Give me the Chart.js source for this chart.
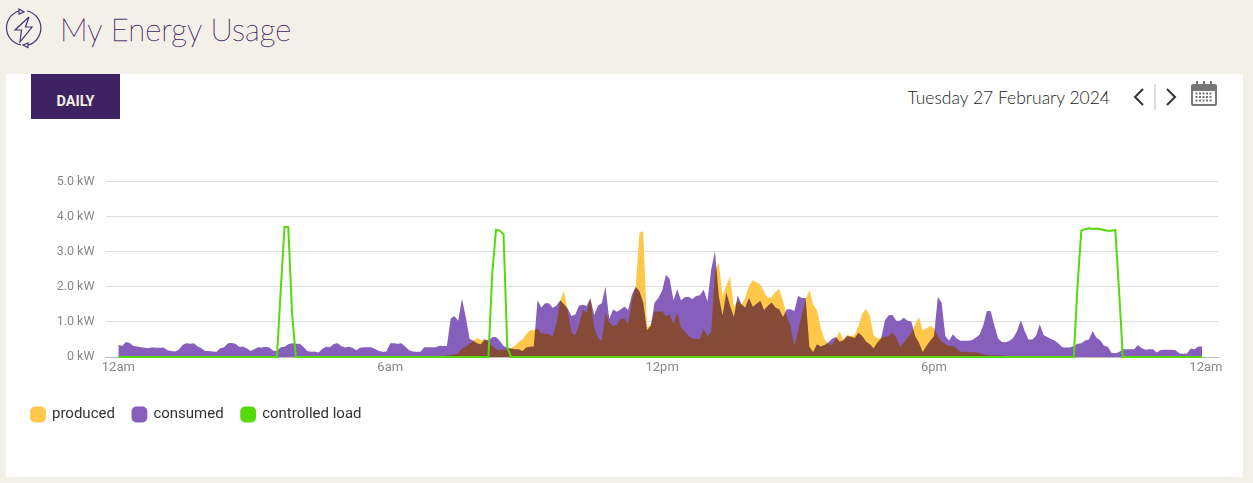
<!DOCTYPE html>
<html>
<head>
<meta charset="utf-8">
<title>My Energy Usage</title>
<script src="https://cdn.jsdelivr.net/npm/chart.js@4/dist/chart.umd.min.js"></script>
<style>
    html, body { margin: 0; padding: 0; width: 1253px; height: 483px; overflow: hidden; background: #f3f0ea; }
    .titulo { position: absolute; left: 60px; top: 9px; font: 100 31px/40px Lato, sans-serif; color: #3f2262; -webkit-text-stroke: .35px #3f2262; letter-spacing: .1px; white-space: nowrap; }
    .icono { position: absolute; left: 0; top: 0; }
    .card { position: absolute; left: 6px; top: 74px; width: 1237px; height: 403px; background: #fff; }
    .daily { position: absolute; left: 31px; top: 74px; width: 89px; height: 45px; background: #3f2262; color: #f3f0ea; font: 700 14.5px/55px Roboto, sans-serif; text-align: center; }
    .fecha { position: absolute; left: 820px; width: 290px; top: 86px; text-align: right; font: 300 17.5px/24px Lato, sans-serif; color: #222; white-space: nowrap; }
    .nav { position: absolute; left: 1130px; top: 80px; }
    .wrap { position: absolute; left: 6px; top: 130px; width: 1237px; height: 340px; }
</style>
</head>
<body>
<svg class="icono" width="45" height="50" viewBox="0 0 45 50" fill="none" stroke="#4b2f75" stroke-width="1.2">
    <path d="M19 11 A17.5 17.5 0 0 0 21 45"/>
    <path d="M27 11 A17.5 17.5 0 0 1 28 45"/>
    <path d="M19 9 L24 12 L19 14 Z"/>
    <path d="M28 43 L23 45 L28 47.5 Z"/>
    <path d="M29 17 L15 30 L21.5 30 L20 42 L32 27 L25.5 27 Z"/>
</svg>
<div class="titulo">My Energy Usage</div>
<div class="card"></div>
<div class="daily">DAILY</div>
<div class="fecha">Tuesday 27 February 2024</div>
<svg class="nav" width="90" height="32" viewBox="0 0 90 32" fill="none">
    <path d="M13 9 L5 17 L13 25" stroke="#333" stroke-width="2"/>
    <path d="M37 9 L45 17 L37 25" stroke="#333" stroke-width="2"/>
    <line x1="25" y1="4" x2="25" y2="30" stroke="#ddd" stroke-width="2"/>
    <rect x="61" y="4" width="26" height="22" rx="2" fill="#777"/>
    <rect x="63" y="11" width="22" height="13" fill="#fff"/>
    <path d="M65.5 13.5h17M65.5 17h17M65.5 20.5h17" stroke="#777" stroke-width="2" stroke-dasharray="2 1.5"/>
    <path d="M67 1v6M74 1v6M81 1v6" stroke="#777" stroke-width="2"/>
</svg>
<div class="wrap"><canvas id="energyChart"></canvas></div>

<script>
// kW readings, one every 5 minutes, one row per hour
const produced = [
    0,0,0,0,0,0,0,0,0,0,0,0,
    0,0,0,0,0,0,0,0,0,0,0,0,
    0,0,0,0,0,0,0,0,0,0,0,0,
    0,0,0,0,0,0,0,0,0,0,0,0,
    0,0,0,0,0,0,0,0,0,0,0,0,
    0,0,0,0,0,0,0,0,0,0,0,0,
    0,0,0,0,0,0,0,0,0,0,0,0,
    0,0,0,.05,.06,.08,.10,.25,.29,.38,.46,.54,
    .48,.51,.41,.31,.22,.19,.21,.22,.25,.33,.43,.50,
    .65,.76,.76,.81,.67,.66,.65,.58,.93,1.60,1.89,1.31,
    .70,.62,.93,1.34,1.27,1.68,.84,.55,.46,1.27,.98,.89,
    .91,1.08,1.10,.95,1.60,2.00,3.55,3.58,.84,.93,1.30,1.29,
    1.31,1.16,1.22,.95,1.27,.84,.72,.60,.53,.51,.51,.80,
    .59,.72,2.45,2.70,1.74,2.03,2.29,1.41,1.60,1.49,1.68,2.03,
    2.19,2.13,2.06,1.86,1.69,1.70,1.86,1.94,1.60,1.17,.89,.31,
    .74,1.22,1.65,1.91,1.49,1.33,.84,.50,.38,.34,.53,.73,
    .50,.63,.60,.63,.89,1.24,1.37,1.17,.63,.53,.55,.57,
    .60,.70,.55,.29,.41,.55,.70,.93,1.14,.76,.82,.89,
    .82,.60,.44,.36,.31,.31,.25,.15,.15,.14,.13,.14,
    .10,.08,.06,.05,.05,.05,.04,.03,.02,0,0,0,
    0,0,0,0,0,0,0,0,0,0,0,0,
    0,0,0,0,0,0,0,0,0,0,0,0,
    0,0,0,0,0,0,0,0,0,0,0,0,
    0,0,0,0,0,0,0,0,0,0,0,0
];
const consumed = [
    .35,.31,.43,.40,.31,.30,.28,.26,.25,.28,.26,.26,
    .27,.19,.17,.16,.21,.34,.39,.38,.39,.30,.25,.17,
    .17,.16,.15,.25,.28,.39,.40,.38,.29,.29,.25,.17,
    .22,.28,.27,.29,.27,.18,.17,.28,.29,.36,.39,.38,
    .38,.29,.17,.15,.16,.13,.23,.29,.28,.36,.40,.31,
    .27,.29,.26,.19,.26,.28,.28,.28,.23,.17,.15,.16,
    .39,.39,.38,.39,.29,.19,.16,.15,.15,.28,.28,.28,
    .28,.32,.31,.31,1.10,1.17,1.03,1.67,1.14,.52,.46,.39,
    .36,.50,.48,.56,.57,.46,.31,.27,.24,.22,.22,.17,
    .27,.29,.30,1.62,1.41,1.53,1.53,1.40,1.46,1.62,1.50,1.38,
    1.17,1.21,1.46,1.49,1.45,1.68,1.20,1.46,1.53,2.00,1.08,1.35,
    1.29,1.35,1.44,1.34,1.77,2.00,1.87,1.55,.76,.89,1.55,1.68,
    1.89,2.34,2.22,1.62,1.93,1.62,1.70,1.72,1.65,1.74,1.76,1.92,
    1.58,2.50,3.01,1.74,1.19,1.84,1.46,1.14,1.76,1.50,1.41,1.68,
    1.43,1.52,1.60,1.34,1.46,1.55,1.41,1.36,1.14,1.36,1.36,1.31,
    1.74,1.68,1.68,.29,.14,.36,.30,.34,.41,.52,.57,.44,
    .48,.60,.58,.54,.69,.60,.44,.36,.25,.41,.53,1.05,
    1.19,1.20,1.03,1.03,1.12,1.03,1.01,.60,.41,.14,.31,.46,
    .60,1.71,1.55,.60,.46,.65,.53,.46,.46,.46,.48,.55,
    .63,.89,1.31,1.31,.89,.52,.43,.42,.46,.55,.74,1.05,
    .74,.50,.50,.60,.93,.63,.57,.51,.46,.38,.28,.27,
    .27,.31,.38,.39,.47,.50,.74,.55,.48,.33,.29,.12,
    .11,.14,.22,.22,.22,.22,.34,.25,.21,.22,.22,.13,
    .20,.21,.21,.21,.19,.10,.09,.10,.24,.22,.30,.30
];
const controlledLoad = [
    0,0,0,0,0,0,0,0,0,0,0,0,
    0,0,0,0,0,0,0,0,0,0,0,0,
    0,0,0,0,0,0,0,0,0,0,0,0,
    0,0,0,0,0,0,0,1.90,3.71,3.70,1.24,0,
    0,0,0,0,0,0,0,0,0,0,0,0,
    0,0,0,0,0,0,0,0,0,0,0,0,
    0,0,0,0,0,0,0,0,0,0,0,0,
    0,0,0,0,0,0,0,0,0,0,0,0,
    0,0,0,2.36,3.62,3.60,3.50,.27,0,0,0,0,
    0,0,0,0,0,0,0,0,0,0,0,0,
    0,0,0,0,0,0,0,0,0,0,0,0,
    0,0,0,0,0,0,0,0,0,0,0,0,
    0,0,0,0,0,0,0,0,0,0,0,0,
    0,0,0,0,0,0,0,0,0,0,0,0,
    0,0,0,0,0,0,0,0,0,0,0,0,
    0,0,0,0,0,0,0,0,0,0,0,0,
    0,0,0,0,0,0,0,0,0,0,0,0,
    0,0,0,0,0,0,0,0,0,0,0,0,
    0,0,0,0,0,0,0,0,0,0,0,0,
    0,0,0,0,0,0,0,0,0,0,0,0,
    0,0,0,0,0,0,0,0,0,0,0,0,
    0,0,2.03,3.60,3.64,3.67,3.65,3.66,3.64,3.62,3.60,3.60,
    3.62,1.89,0,0,0,0,0,0,0,0,0,0,
    0,0,0,0,0,0,0,0,0,0,0,0
];
const xTickMinutes = [0, 360, 720, 1080, 1440];
const xTickLabels = ['12am', '6am', '12pm', '6pm', '12am'];
const yTicks = [0, 1, 2, 3, 4, 5];
const yTickLabels = ['0 kW', '1.0 kW', '2.0 kW', '3.0 kW', '4.0 kW', '5.0 kW'];

const conX = arr => arr.map((v, i) => ({ x: i * 5, y: v }));

// the overlap of the two areas goes brown, so they multiply instead of stacking
const mezclaAreas = {
    id: 'mezclaAreas',
    beforeDatasetsDraw(chart) {
        const ctx = chart.ctx, base = chart.scales.y.getPixelForValue(0);
        ctx.save();
        ctx.fillStyle = '#fff';
        [0, 1].forEach(n => {
            const pts = chart.getDatasetMeta(n).data;
            ctx.beginPath();
            ctx.moveTo(pts[0].x, base);
            pts.forEach(p => ctx.lineTo(p.x, p.y));
            ctx.lineTo(pts[pts.length - 1].x, base);
            ctx.closePath();
            ctx.fill();
        });
        ctx.restore();
        ctx.globalCompositeOperation = 'multiply';
    },
    beforeDatasetDraw(chart, args) {
        if (args.index === 2) chart.ctx.globalCompositeOperation = 'source-over';
    },
    afterDatasetsDraw(chart) {
        chart.ctx.globalCompositeOperation = 'source-over';
    }
};

new Chart(document.getElementById('energyChart'), {
    type: 'line',
    data: {
        datasets: [
            { label: 'produced', data: conX(produced), backgroundColor: '#ffc84a', borderColor: '#ffc84a', borderWidth: 0, pointRadius: 0, fill: 'origin', order: 2 },
            { label: 'consumed', data: conX(consumed), backgroundColor: '#865fbc', borderColor: '#865fbc', borderWidth: 0, pointRadius: 0, fill: 'origin', order: 1 },
            { label: 'controlled load', data: conX(controlledLoad), backgroundColor: '#56d90b', borderColor: '#56d90b', borderWidth: 2, pointRadius: 0, fill: false, clip: false, order: 0 }
        ]
    },
    options: {
        responsive: true,
        maintainAspectRatio: false,
        animation: false,
        events: [],
        layout: { padding: { left: 7.5, right: 25, top: 51.5, bottom: 38 } },
        plugins: {
            tooltip: { enabled: false },
            legend: {
                position: 'bottom',
                align: 'start',
                labels: {
                    usePointStyle: true,
                    boxWidth: 13,
                    boxHeight: 13,
                    padding: 18,
                    color: '#333',
                    font: { family: 'Roboto', size: 15 },
                    generateLabels(chart) {
                        return chart.data.datasets.map((d, i) => ({
                            text: d.label,
                            fontColor: '#333',
                            fillStyle: d.backgroundColor,
                            strokeStyle: d.backgroundColor,
                            lineWidth: 0,
                            pointStyle: 'rectRounded',
                            datasetIndex: i
                        }));
                    }
                }
            }
        },
        scales: {
            x: {
                type: 'linear',
                min: -17,
                max: 1456,
                afterBuildTicks(axis) { axis.ticks = xTickMinutes.map(v => ({ value: v })); },
                afterFit(axis) { axis.height = 32; },
                grid: { display: false, drawTicks: false },
                border: { color: '#bbb' },
                ticks: {
                    autoSkip: false,
                    maxRotation: 0,
                    padding: 3,
                    color: '#888',
                    font: { family: 'Roboto', size: 13 },
                    callback(value) { return xTickLabels[xTickMinutes.indexOf(value)]; }
                }
            },
            y: {
                min: 0,
                max: 5,
                afterBuildTicks(axis) { axis.ticks = yTicks.map(v => ({ value: v })); },
                afterFit(axis) { axis.width = 92; },
                grid: { color: '#ddd', drawTicks: false },
                border: { display: false },
                ticks: {
                    padding: 11,
                    color: '#888',
                    font: { family: 'Roboto', size: 12.5 },
                    callback(value) { return yTickLabels[yTicks.indexOf(value)]; }
                }
            }
        }
    },
    plugins: [mezclaAreas]
});
</script>
</body>
</html>
